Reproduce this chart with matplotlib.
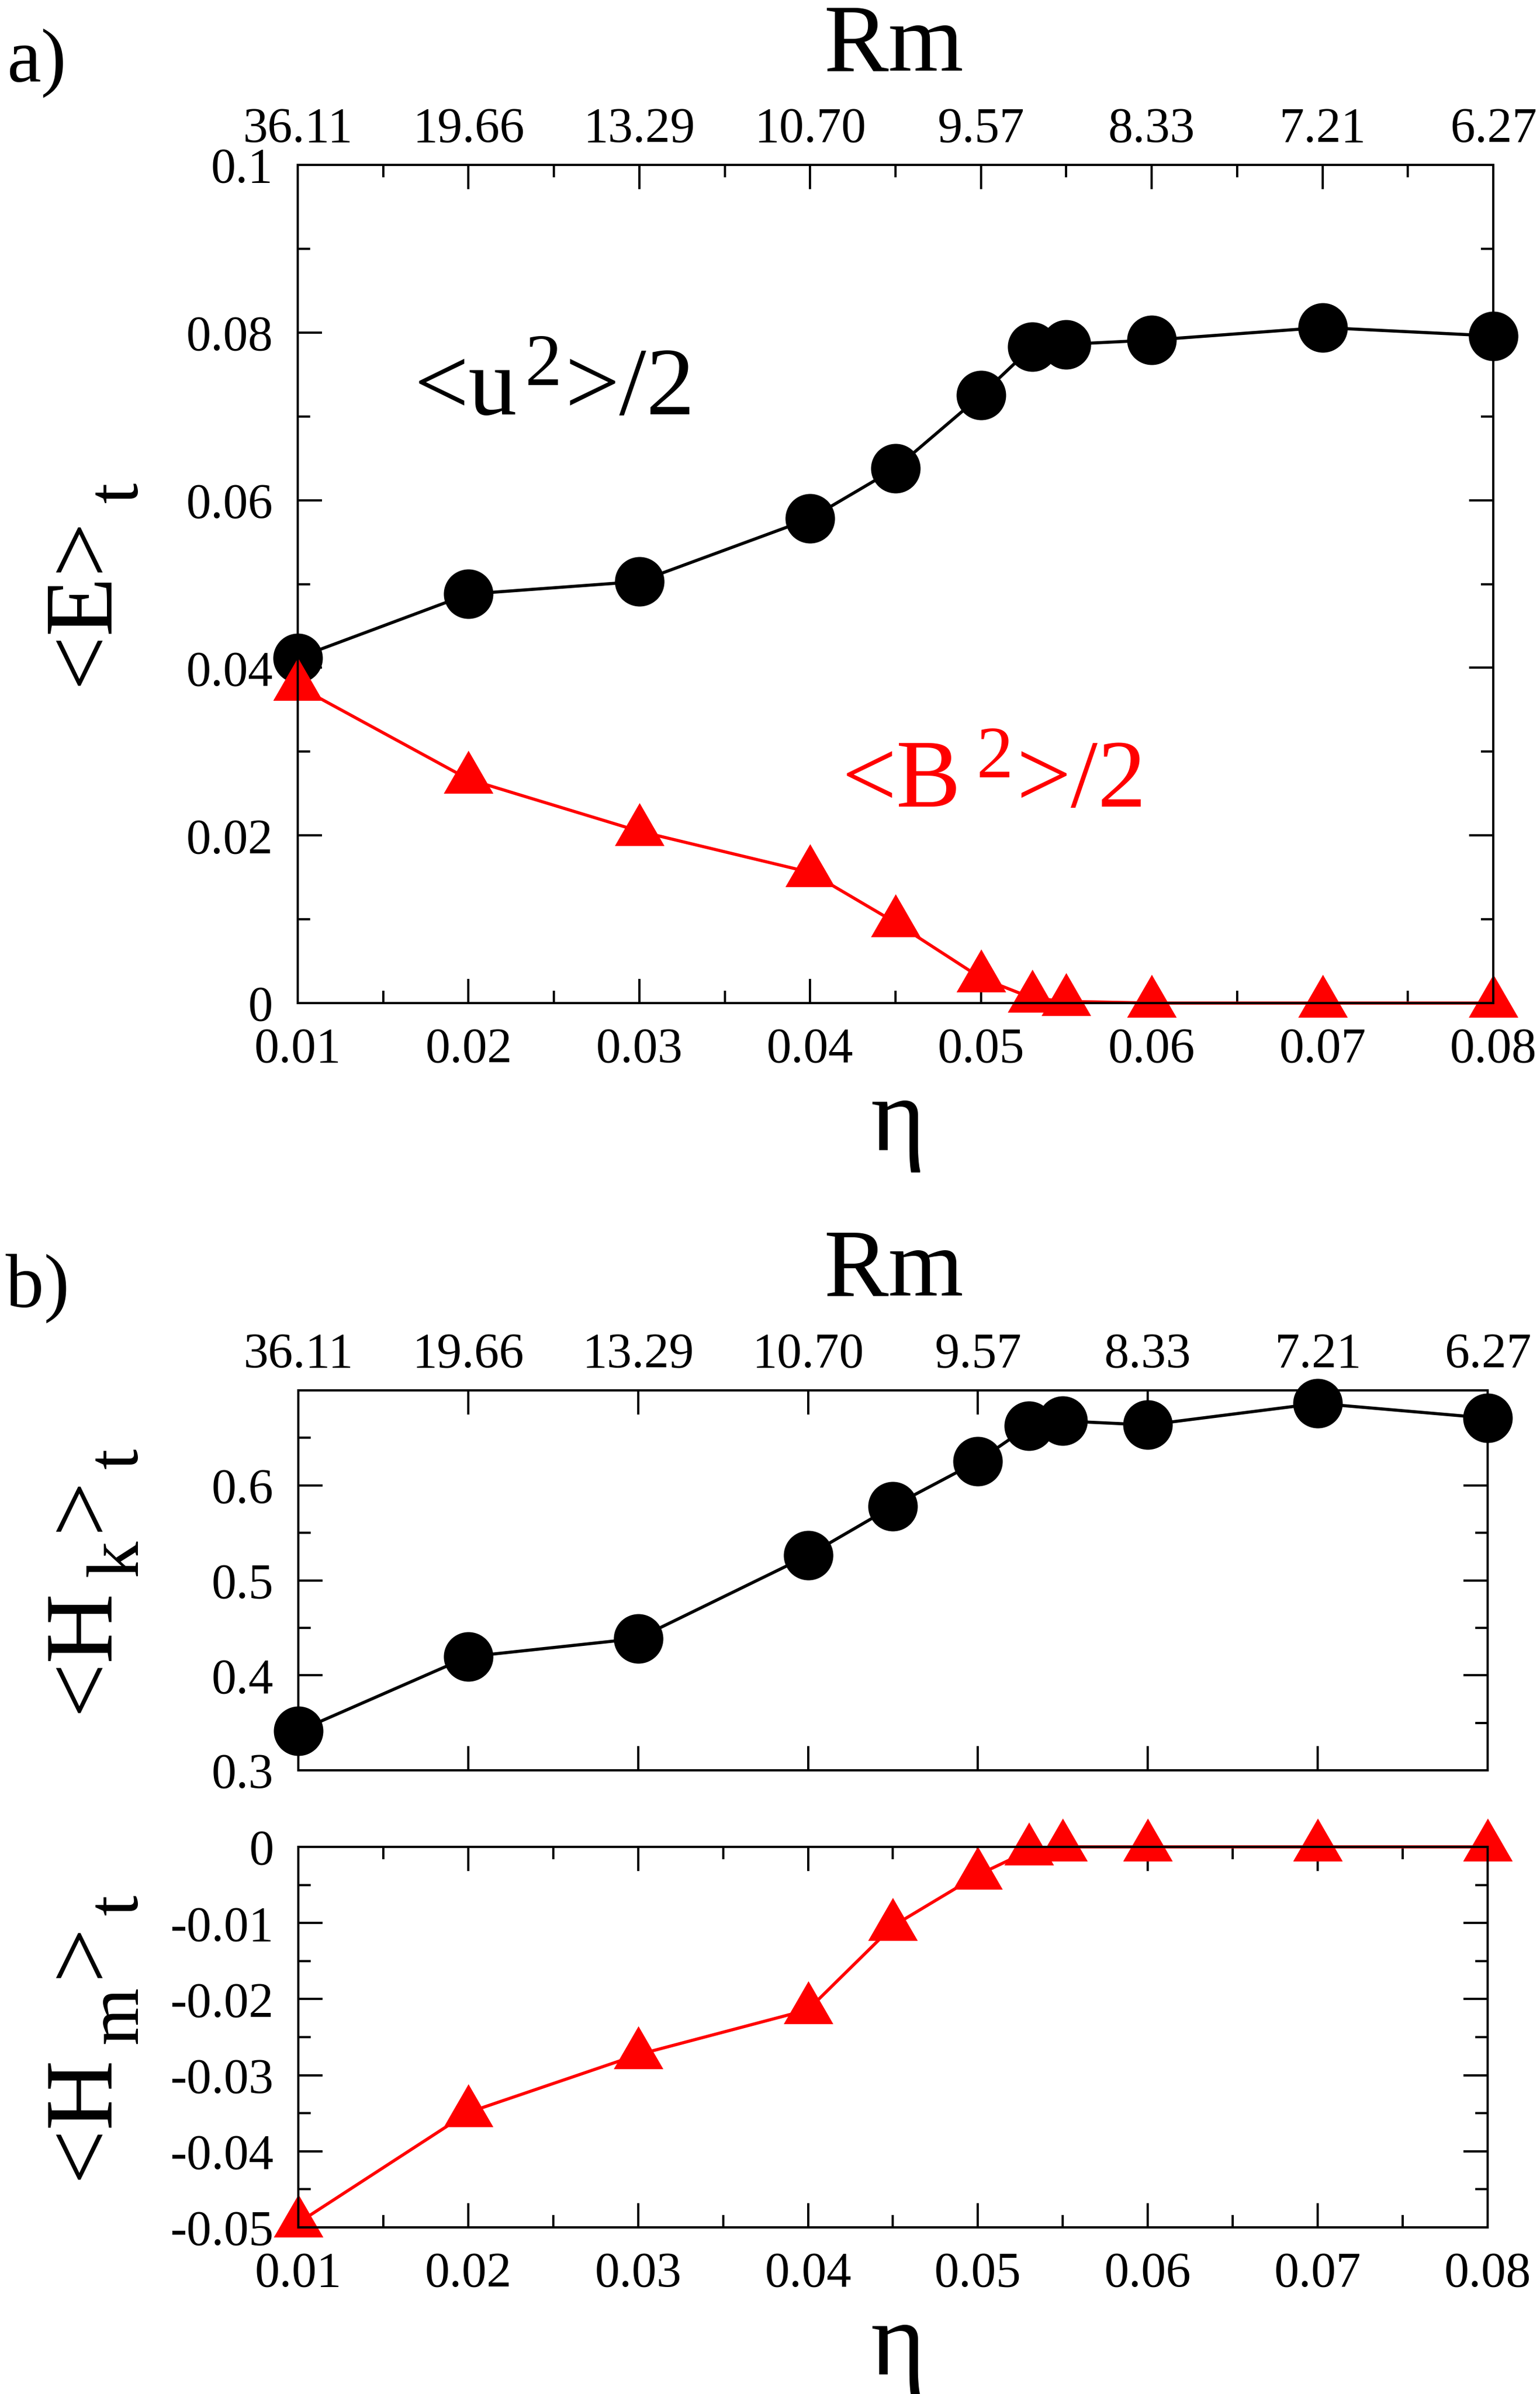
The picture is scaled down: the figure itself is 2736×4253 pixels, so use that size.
import matplotlib
matplotlib.use('Agg')
import matplotlib.pyplot as plt
from matplotlib.path import Path
from matplotlib import transforms as mtransforms
from matplotlib.ticker import FixedLocator, FixedFormatter, MultipleLocator, NullFormatter

plt.rcParams['font.family'] = ['Liberation Serif', 'DejaVu Serif']
plt.rcParams['axes.unicode_minus'] = False

# data
eta = [0.01, 0.02, 0.03, 0.04, 0.045, 0.05, 0.053, 0.055, 0.06, 0.07, 0.08]
u2_half = [0.0412, 0.0488, 0.0503, 0.0578, 0.0638, 0.0725, 0.0783, 0.0786, 0.0791, 0.0806, 0.0796]
b2_half = [0.0378, 0.0267, 0.0205, 0.0156, 0.0096, 0.0030, 0.0006, 0.0002, 0.0, 0.0, 0.0]
hk = [0.3413, 0.4196, 0.4388, 0.5261, 0.5781, 0.6254, 0.6624, 0.6678, 0.6636, 0.6863, 0.6708]
hm = [-0.0494, -0.0349, -0.0273, -0.0214, -0.0104, -0.0037, -0.0005, 0.0, 0.0, 0.0, 0.0]

eta_ticks = [0.01, 0.02, 0.03, 0.04, 0.05, 0.06, 0.07, 0.08]
eta_labels = ['0.01', '0.02', '0.03', '0.04', '0.05', '0.06', '0.07', '0.08']
rm_labels = ['36.11', '19.66', '13.29', '10.70', '9.57', '8.33', '7.21', '6.27']
e_ticks = [0, 0.02, 0.04, 0.06, 0.08, 0.1]
e_labels = ['0', '0.02', '0.04', '0.06', '0.08', '0.1']
hk_ticks = [0.3, 0.4, 0.5, 0.6, 0.7]
hk_labels = ['0.3', '0.4', '0.5', '0.6', '']
hm_ticks = [-0.05, -0.04, -0.03, -0.02, -0.01, 0]
hm_labels = ['-0.05', '-0.04', '-0.03', '-0.02', '-0.01', '0']

W, H, DPI = 2736, 4253, 100
PX = 72.0 / DPI  # points per pixel

TICK_FS = 63.5
BIG_FS = 124
LW = 4.0
CIRC_MS = 88 * PX
TRI_MS = 88 * PX / 0.866

tri = Path([(0, 0.577), (-0.5, -0.2887), (0.5, -0.2887), (0, 0.577)],
           [Path.MOVETO, Path.LINETO, Path.LINETO, Path.CLOSEPOLY])

fig = plt.figure(figsize=(W / DPI, H / DPI), dpi=DPI)
renderer = fig.canvas.get_renderer()
ident = mtransforms.IdentityTransform()


def box(left, top, right, bottom):
    # pixel box in image coords (origin top-left) -> figure fraction
    return [left / W, 1 - bottom / H, (right - left) / W, (bottom - top) / H]


def style(ax):
    ax.tick_params(axis='both', which='both', direction='in', width=4 * PX,
                   labelsize=TICK_FS, right=True)
    ax.tick_params(which='major', length=43 * PX)
    ax.tick_params(which='minor', length=22 * PX)
    ax.tick_params(axis='y', pad=31.5)
    ax.tick_params(axis='x', pad=31)
    for sp in ax.spines.values():
        sp.set_linewidth(4 * PX)


def add_rm_axis(ax, minor):
    top = ax.twiny()
    top.set_xlim(ax.get_xlim())
    top.xaxis.set_major_locator(FixedLocator(eta_ticks))
    top.xaxis.set_major_formatter(FixedFormatter(rm_labels))
    if minor:
        top.xaxis.set_minor_locator(MultipleLocator(0.005))
    top.tick_params(axis='x', which='both', direction='in', width=4 * PX,
                    labelsize=TICK_FS, pad=16)
    top.tick_params(which='major', length=43 * PX)
    top.tick_params(which='minor', length=22 * PX)
    for sp in top.spines.values():
        sp.set_linewidth(4 * PX)
    return top


def text_width(s, size):
    t = fig.text(0, 0, s, fontsize=size)
    w = t.get_window_extent(renderer).width
    t.remove()
    return w


def rich_text(pieces, x, y, size, color='black', vertical=False, center=False):
    # pieces: (text, scale, rise in em, gap before in px); x, y in display px
    em = size / PX
    widths = [text_width(s, size * sc) for s, sc, rise, gap in pieces]
    total = sum(widths) + sum(p[3] for p in pieces)
    pos = (y if vertical else x) - (total / 2 if center else 0)
    for (s, sc, rise, gap), w in zip(pieces, widths):
        pos += gap
        if vertical:
            fig.text(x - rise * em, pos, s, fontsize=size * sc, color=color, rotation=90,
                     rotation_mode='anchor', ha='left', va='baseline', transform=ident)
        else:
            fig.text(pos, y + rise * em, s, fontsize=size * sc, color=color,
                     ha='left', va='baseline', transform=ident)
        pos += w


# ---- panel a ----
ax_e = fig.add_axes(box(529, 293, 2653, 1782))
ax_e.plot(eta, u2_half, color='black', lw=LW, marker='o', ms=CIRC_MS, mew=0, clip_on=False)
ax_e.plot(eta, b2_half, color='red', lw=LW, marker=tri, ms=TRI_MS, mew=0, clip_on=False)
ax_e.set_xlim(0.01, 0.08)
ax_e.set_ylim(0, 0.1)
ax_e.xaxis.set_major_locator(FixedLocator(eta_ticks))
ax_e.xaxis.set_major_formatter(FixedFormatter(eta_labels))
ax_e.xaxis.set_minor_locator(MultipleLocator(0.005))
ax_e.yaxis.set_major_locator(FixedLocator(e_ticks))
ax_e.yaxis.set_major_formatter(FixedFormatter(e_labels))
ax_e.yaxis.set_minor_locator(MultipleLocator(0.01))
style(ax_e)
add_rm_axis(ax_e, minor=True)

# ---- panel b, kinetic helicity ----
ax_k = fig.add_axes(box(530, 2470, 2643, 3145))
ax_k.plot(eta, hk, color='black', lw=LW, marker='o', ms=CIRC_MS, mew=0, clip_on=False)
ax_k.set_xlim(0.01, 0.08)
ax_k.set_ylim(0.3, 0.7)
ax_k.xaxis.set_major_locator(FixedLocator(eta_ticks))
ax_k.xaxis.set_major_formatter(NullFormatter())
ax_k.yaxis.set_major_locator(FixedLocator(hk_ticks))
ax_k.yaxis.set_major_formatter(FixedFormatter(hk_labels))
ax_k.yaxis.set_minor_locator(MultipleLocator(0.05))
style(ax_k)
add_rm_axis(ax_k, minor=False)

# ---- panel b, magnetic helicity ----
ax_m = fig.add_axes(box(530, 3281, 2643, 3957))
ax_m.plot(eta, hm, color='red', lw=LW, marker=tri, ms=TRI_MS, mew=0, clip_on=False)
ax_m.set_xlim(0.01, 0.08)
ax_m.set_ylim(-0.05, 0)
ax_m.xaxis.set_major_locator(FixedLocator(eta_ticks))
ax_m.xaxis.set_major_formatter(FixedFormatter(eta_labels))
ax_m.xaxis.set_minor_locator(MultipleLocator(0.005))
ax_m.yaxis.set_major_locator(FixedLocator(hm_ticks))
ax_m.yaxis.set_major_formatter(FixedFormatter(hm_labels))
ax_m.yaxis.set_minor_locator(MultipleLocator(0.005))
style(ax_m)
ax_m.tick_params(axis='x', which='both', top=True, labeltop=False)

# ---- text ----
for base_y in (125, 2302):
    fig.text(1587, H - base_y, 'Rm', fontsize=BIG_FS, ha='center', va='baseline', transform=ident)
for base_y in (2043, 4218):
    fig.text(1595, H - base_y, '\u03b7', fontsize=134, ha='center', va='baseline', transform=ident)
fig.text(12, H - 145, 'a)', fontsize=98, ha='left', va='baseline', transform=ident)
fig.text(10, H - 2322, 'b)', fontsize=98, ha='left', va='baseline', transform=ident)

rich_text([('<u', 1, 0, 0), ('2', 0.76, 0.30, 14), ('>/2', 1, 0, 6)],
          735, H - 736, BIG_FS)
rich_text([('<B', 1, 0, 0), ('2', 0.76, 0.30, 27), ('>/2', 1, 0, 6)],
          1495, H - 1433, BIG_FS, color='red')

rich_text([('<E>', 1, 0, 0), ('t', 0.76, -0.31, 26)],
          190, H - (293 + 1782) / 2, BIG_FS, vertical=True, center=True)
rich_text([('<H', 1, 0, 0), ('k', 0.76, -0.31, 20), ('>', 1, 0, 15), ('t', 0.76, -0.31, 15)],
          190, H - (2470 + 3145) / 2, BIG_FS, vertical=True, center=True)
rich_text([('<H', 1, 0, 0), ('m', 0.76, -0.31, 20), ('>', 1, 0, 15), ('t', 0.76, -0.31, 15)],
          190, H - (3281 + 3957) / 2, BIG_FS, vertical=True, center=True)

fig.savefig('out.png', dpi=DPI)
